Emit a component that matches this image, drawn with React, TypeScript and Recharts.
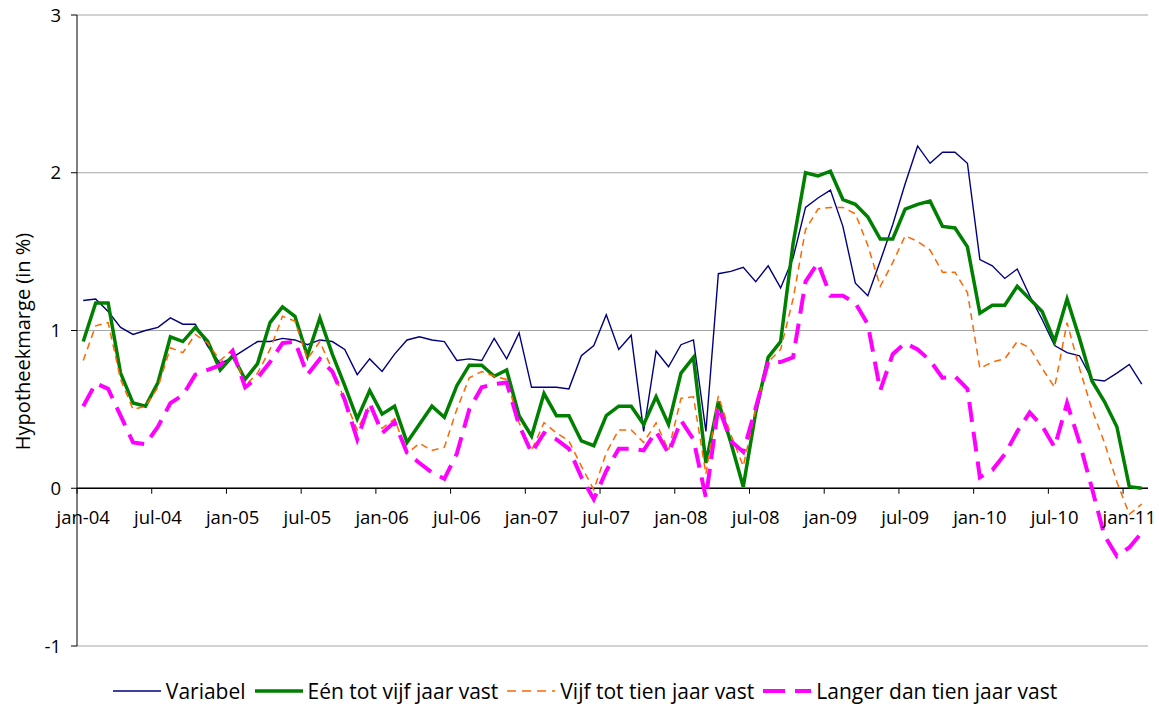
import { LineChart, Line, XAxis, YAxis, CartesianGrid, ReferenceLine, ReferenceDot } from 'recharts';

// Monthly series, jan-04 .. feb-11 (86 months)
const monthNames = ['jan', 'feb', 'mrt', 'apr', 'mei', 'jun', 'jul', 'aug', 'sep', 'okt', 'nov', 'dec'];
const categories = Array.from({ length: 86 }, (_, i) => `${monthNames[i % 12]}-${String(4 + Math.floor(i / 12)).padStart(2, '0')}`);

// Tick labels sit on every 6th month
const tickIndexes = [0, 6, 12, 18, 24, 30, 36, 42, 48, 54, 60, 66, 72, 78, 84];
const tickLabels = ['jan-04', 'jul-04', 'jan-05', 'jul-05', 'jan-06', 'jul-06', 'jan-07', 'jul-07', 'jan-08', 'jul-08', 'jan-09', 'jul-09', 'jan-10', 'jul-10', 'jan-11'];

const variabel = [
  1.19, 1.2, 1.12, 1.02, 0.975, 1.0, 1.02, 1.08, 1.04, 1.04, 0.9, 0.79,
  0.83, 0.88, 0.93, 0.93, 0.95, 0.94, 0.91, 0.94, 0.93, 0.88, 0.72, 0.82,
  0.74, 0.85, 0.94, 0.96, 0.94, 0.93, 0.81, 0.82, 0.81, 0.95, 0.82, 0.985,
  0.64, 0.64, 0.64, 0.63, 0.84, 0.905, 1.1, 0.88, 0.97, 0.36, 0.87, 0.77,
  0.91, 0.94, 0.36, 1.36, 1.375, 1.4, 1.31, 1.41, 1.27, 1.46, 1.78, 1.84,
  1.89, 1.66, 1.3, 1.22, 1.44, 1.67, 1.93, 2.17, 2.06, 2.13, 2.13, 2.06,
  1.45, 1.41, 1.33, 1.39, 1.22, 1.07, 0.905, 0.86, 0.84, 0.69, 0.68, 0.73,
  0.785, 0.66,
];

const eenTotVijf = [
  0.93, 1.175, 1.175, 0.73, 0.54, 0.52, 0.67, 0.96, 0.93, 1.02, 0.93, 0.75,
  0.84, 0.69, 0.79, 1.05, 1.15, 1.09, 0.84, 1.08, 0.85, 0.65, 0.44, 0.62,
  0.47, 0.52, 0.29, 0.405, 0.52, 0.45, 0.65, 0.78, 0.78, 0.71, 0.75, 0.46,
  0.33, 0.6, 0.46, 0.46, 0.3, 0.27, 0.46, 0.52, 0.52, 0.405, 0.58, 0.405,
  0.73, 0.83, 0.16, 0.55, 0.29, 0.01, 0.48, 0.83, 0.93, 1.55, 2.0, 1.98,
  2.01, 1.83, 1.8, 1.72, 1.58, 1.58, 1.77, 1.8, 1.82, 1.66, 1.65, 1.53,
  1.11, 1.16, 1.16, 1.28, 1.2, 1.12, 0.93, 1.2, 0.95, 0.68, 0.55, 0.39,
  0.01, 0.0,
];

const vijfTotTien = [
  0.81, 1.03, 1.05, 0.69, 0.5, 0.52, 0.64, 0.89, 0.86, 0.975, 0.92, 0.81,
  0.88, 0.65, 0.73, 0.88, 1.09, 1.06, 0.82, 0.93, 0.75, 0.56, 0.37, 0.53,
  0.38, 0.44, 0.22, 0.285, 0.24, 0.26, 0.5, 0.7, 0.74, 0.71, 0.69, 0.415,
  0.24, 0.415, 0.35, 0.3, 0.14, -0.01, 0.225, 0.37, 0.37, 0.29, 0.415, 0.24,
  0.57, 0.58, 0.09, 0.585, 0.34, 0.14, 0.5, 0.8, 0.88, 1.2, 1.64, 1.77,
  1.78, 1.78, 1.74, 1.54, 1.28, 1.43, 1.6, 1.565, 1.51, 1.37, 1.37, 1.24,
  0.76, 0.8, 0.82, 0.93, 0.89, 0.76, 0.64, 1.05, 0.76, 0.5, 0.29, 0.04,
  -0.165, -0.1,
];

const langer = [
  0.52, 0.665, 0.63, 0.46, 0.29, 0.28, 0.39, 0.54, 0.59, 0.72, 0.75, 0.78,
  0.87, 0.64, 0.7, 0.8, 0.92, 0.93, 0.72, 0.82, 0.74, 0.56, 0.31, 0.54,
  0.35, 0.42, 0.225, 0.16, 0.1, 0.06, 0.22, 0.5, 0.64, 0.66, 0.67, 0.4,
  0.225, 0.35, 0.31, 0.25, 0.07, -0.07, 0.11, 0.25, 0.25, 0.24, 0.36, 0.22,
  0.43, 0.31, -0.06, 0.52, 0.3, 0.23, 0.51, 0.8, 0.8, 0.83, 1.31, 1.43,
  1.22, 1.22, 1.175, 1.04, 0.62, 0.85, 0.92, 0.88, 0.81, 0.7, 0.71, 0.63,
  0.07, 0.115, 0.215, 0.36, 0.48, 0.395, 0.26, 0.54, 0.29, 0.0, -0.3, -0.43,
  -0.375, -0.28,
];

const data = categories.map((month, idx) => ({
  idx,
  month,
  variabel: variabel[idx],
  eenTotVijf: eenTotVijf[idx],
  vijfTotTien: vijfTotTien[idx],
  langer: langer[idx],
}));

const series = [
  { key: 'variabel', name: 'Variabel', color: '#000080', width: 1.4, dash: undefined, legendDash: undefined },
  { key: 'eenTotVijf', name: 'Eén tot vijf jaar vast', color: '#008000', width: 3.5, dash: undefined, legendDash: undefined },
  { key: 'vijfTotTien', name: 'Vijf tot tien jaar vast', color: '#ff6600', width: 1.5, dash: '7 5', legendDash: '9 6' },
  { key: 'langer', name: 'Langer dan tien jaar vast', color: '#ff00ff', width: 4, dash: '20 10', legendDash: '22 10' },
];

const FONT = '"Open Sans", sans-serif';

export default function App() {
  return (
    <div style={{ position: 'absolute', left: 0, top: 0, width: 1159, height: 706, background: '#fff', fontFamily: FONT }}>
      <LineChart width={1159} height={706} data={data} margin={{ top: 15, right: 11, bottom: 60, left: 0 }}>
        <CartesianGrid vertical={false} stroke="#a6a6a6" />
        <XAxis dataKey="idx" type="number" domain={[-0.5, 85.5]} hide />
        <YAxis
          domain={[-1, 3]}
          ticks={[-1, 0, 1, 2, 3]}
          interval={0}
          width={77}
          tickSize={6}
          tickMargin={10}
          axisLine={{ stroke: '#000' }}
          tickLine={{ stroke: '#000' }}
          tick={{ fill: '#000', fontSize: 18.5, fontFamily: FONT }}
          label={{ value: 'Hypotheekmarge (in %)', angle: -90, position: 'center', dx: -16, dy: 11, fill: '#000', fontSize: 20, fontFamily: FONT }}
        />
        <ReferenceLine y={0} stroke="#000" strokeWidth={1.3} />
        {tickIndexes.map((k) => (
          <ReferenceLine key={`tm-${k}`} segment={[{ x: k - 0.5, y: 0 }, { x: k - 0.5, y: -0.035 }]} stroke="#000" />
        ))}
        {tickIndexes.map((k, n) => (
          <ReferenceDot
            key={`tl-${k}`}
            x={k}
            y={0}
            r={0}
            fill="none"
            stroke="none"
            label={{ value: tickLabels[n], position: 'bottom', offset: 23, fill: '#000', fontSize: 18.5, fontFamily: FONT }}
          />
        ))}
        {series.map((s) => (
          <Line
            key={s.key}
            type="linear"
            dataKey={s.key}
            name={s.name}
            stroke={s.color}
            strokeWidth={s.width}
            strokeDasharray={s.dash}
            dot={false}
            activeDot={false}
            isAnimationActive={false}
          />
        ))}
      </LineChart>
      <div
        style={{
          position: 'absolute',
          left: 20,
          top: 677,
          width: 1139,
          display: 'flex',
          justifyContent: 'center',
          alignItems: 'center',
          fontSize: 21,
          color: '#000',
          whiteSpace: 'nowrap',
        }}
      >
        {series.map((s) => (
          <div key={s.key} style={{ display: 'flex', alignItems: 'center', marginRight: 9 }}>
            <svg width={48} height={10} style={{ marginRight: 5 }}>
              <line x1={0} y1={5} x2={48} y2={5} stroke={s.color} strokeWidth={s.width} strokeDasharray={s.legendDash} />
            </svg>
            <span>{s.name}</span>
          </div>
        ))}
      </div>
    </div>
  );
}
